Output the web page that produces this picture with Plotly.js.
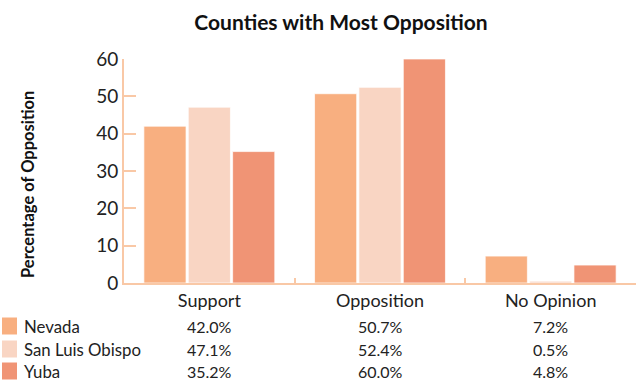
<!DOCTYPE html>
<html>
<head>
<meta charset="utf-8">
<script src="https://cdn.plot.ly/plotly-3.0.1.min.js"></script>
<style>html,body{margin:0;padding:0;background:#fff;}#chart{width:643px;height:381px;}</style>
</head>
<body>
<div id="chart"></div>
<script>
const categories = ['Support', 'Opposition', 'No Opinion'];
const counties = ['Nevada', 'San Luis Obispo', 'Yuba'];
const nevada = [42.0, 50.7, 7.2];
const sanLuisObispo = [47.1, 52.4, 0.5];
const yuba = [35.2, 60.0, 4.8];
const seriesValues = [nevada, sanLuisObispo, yuba];
const colors = ['#F8AF80', '#F9D5C3', '#F09475'];
const axisColor = '#F9C8A6';
const FONT = 'Lato, "DejaVu Sans", sans-serif';

// layout geometry (pixels)
const W = 643, H = 381, L = 124, R = 7, T = 59, B = 98;
const plotW = W - L - R, plotH = H - T - B;
const px2x = p => (p - L) / plotW;
const px2y = p => (H - B - p) / plotH;

const traces = counties.map((name, i) => ({
  type: 'bar',
  name: name,
  x: categories,
  y: seriesValues[i],
  marker: {color: colors[i], line: {color: 'rgba(255,255,255,0.7)', width: 1}},
  hoverinfo: 'none'
}));

const rowY = [326, 349, 371];
const annotations = [];
const shapes = [];
counties.forEach((name, i) => {
  annotations.push({
    xref: 'paper', yref: 'paper', x: px2x(22), y: px2y(rowY[i]),
    xanchor: 'left', yanchor: 'middle', showarrow: false,
    text: name, font: {family: FONT, size: 16.8, color: '#222'}
  });
  shapes.push({
    type: 'rect', xref: 'paper', yref: 'paper',
    x0: px2x(2), x1: px2x(17), y0: px2y(rowY[i] + 8.5), y1: px2y(rowY[i] - 8.5),
    fillcolor: colors[i], line: {width: 0}
  });
  categories.forEach((c, j) => {
    annotations.push({
      xref: 'x', yref: 'paper', x: c, y: px2y(rowY[i]),
      xanchor: 'center', yanchor: 'middle', showarrow: false,
      text: seriesValues[i][j].toFixed(1) + '%',
      font: {family: FONT, size: 16, color: '#222'}
    });
  });
});
annotations.push({
  xref: 'paper', yref: 'paper', x: px2x(28), y: px2y(185),
  xanchor: 'center', yanchor: 'middle', showarrow: false, textangle: -90,
  text: '<b>Percentage of Opposition</b>', font: {family: FONT, size: 16.5, color: '#111'}
});

const layout = {
  width: W, height: H,
  margin: {l: L, r: R, t: T, b: B, pad: 0},
  paper_bgcolor: '#fff', plot_bgcolor: '#fff',
  showlegend: false,
  barmode: 'group', bargap: 0.22, bargroupgap: 0.05,
  title: {
    text: '<b>Counties with Most Opposition</b>',
    font: {family: FONT, size: 21, color: '#111'},
    x: 341 / W, xref: 'container', xanchor: 'center',
    y: 1 - 23 / H, yref: 'container', yanchor: 'middle'
  },
  xaxis: {
    type: 'category', tickson: 'boundaries', ticks: 'inside', ticklen: 5,
    tickcolor: axisColor, tickwidth: 2, showline: true, linecolor: axisColor, linewidth: 2,
    showgrid: false, zeroline: false, tickfont: {family: FONT, size: 18, color: '#222'}
  },
  yaxis: {
    range: [0, 60], dtick: 10, ticks: 'inside', ticklen: 12, tickcolor: axisColor, tickwidth: 2,
    showline: true, linecolor: axisColor, linewidth: 2, showgrid: false, zeroline: false,
    tickfont: {family: FONT, size: 19, color: '#222'}
  },
  annotations: annotations,
  shapes: shapes
};

Plotly.newPlot('chart', traces, layout, {displayModeBar: false, staticPlot: true});
</script>
</body>
</html>
